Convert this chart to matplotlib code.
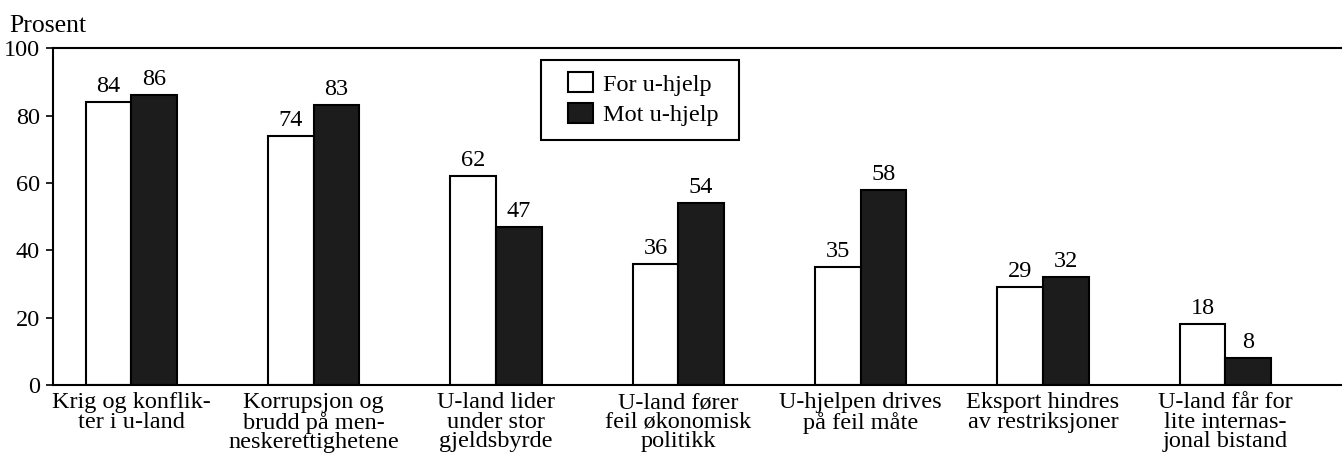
import matplotlib
matplotlib.use('Agg')

import numpy as np
import matplotlib.pyplot as plt
from matplotlib.patches import Rectangle

# Data
categories = ['Krig og konflik-\nter i u-land',
              'Korrupsjon og\nbrudd på men-\nneskerettighetene',
              'U-land lider\nunder stor\ngjeldsbyrde',
              'U-land fører\nfeil økonomisk\npolitikk',
              'U-hjelpen drives\npå feil måte',
              'Eksport hindres\nav restriksjoner',
              'U-land får for\nlite internas-\njonal bistand']
for_uhjelp = [84, 74, 62, 36, 35, 29, 18]
mot_uhjelp = [86, 83, 47, 54, 58, 32, 8]
yticks = [0, 20, 40, 60, 80, 100]

plt.rcParams['font.family'] = ['Liberation Serif', 'DejaVu Serif']
fs = 17.5

fig = plt.figure(figsize=(13.42, 4.59), dpi=100)
ax = fig.add_axes([0.0395, 0.161, 0.9605, 0.734])

x = np.arange(len(categories))
w = 0.25
b1 = ax.bar(x - w / 2, for_uhjelp, w, color='white', edgecolor='black', linewidth=1.5, label='For u-hjelp')
b2 = ax.bar(x + w / 2, mot_uhjelp, w, color='#1c1c1c', edgecolor='black', linewidth=1.5, label='Mot u-hjelp')

for bars, vals in ((b1, for_uhjelp), (b2, mot_uhjelp)):
    for rect, v in zip(bars, vals):
        ax.text(rect.get_x() + rect.get_width() / 2, v + 1.5, str(v),
                ha='center', va='bottom', fontsize=fs)

ax.set_xlim(-0.43, 6.64)
ax.set_ylim(0, 100)
ax.set_yticks(yticks)
ax.tick_params(axis='y', direction='out', length=5, width=1.2, labelsize=fs, pad=4.5)
ax.set_xticks(x)
ax.set_xticklabels(categories, fontsize=fs, linespacing=0.92)
ax.tick_params(axis='x', length=0, pad=5)

for s in ('left', 'top', 'bottom'):
    ax.spines[s].set_linewidth(1.5)
ax.spines['right'].set_visible(False)

fig.text(0.007, 0.967, 'Prosent', fontsize=18.5, va='top', ha='left')

# legend with a separate frame box
leg = ax.legend(loc='upper left', bbox_to_anchor=(0.4232, 0.843), bbox_transform=fig.transFigure,
                fontsize=fs, frameon=False, handlelength=1.03, handleheight=0.9,
                handletextpad=0.42, borderpad=0, labelspacing=0.3, borderaxespad=0)
fig.patches.append(Rectangle((0.4031, 0.695), 0.1475, 0.1743, transform=fig.transFigure,
                             facecolor='none', edgecolor='black', linewidth=1.5, zorder=5))

fig.savefig('out.png', dpi=100)
